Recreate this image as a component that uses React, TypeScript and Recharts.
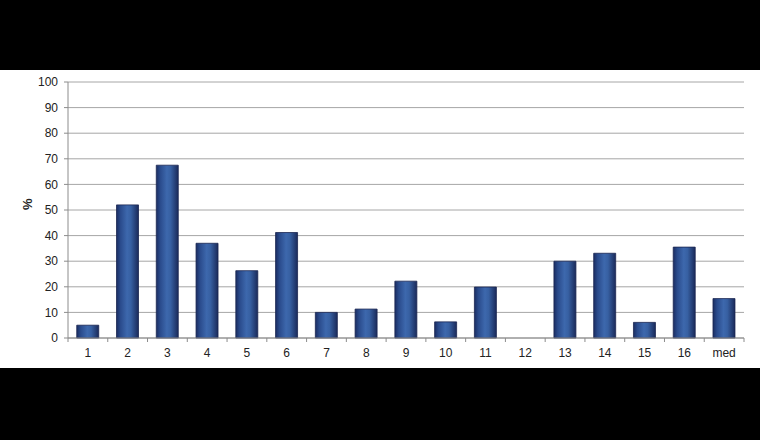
import { BarChart, Bar, XAxis, YAxis, CartesianGrid } from 'recharts';

const categories = ['1', '2', '3', '4', '5', '6', '7', '8', '9', '10', '11', '12', '13', '14', '15', '16', 'med'];
const shares = [5, 52, 67.5, 37, 26.3, 41.2, 10, 11.3, 22.2, 6.3, 19.9, 0, 30, 33.1, 6.1, 35.5, 15.4];
const yTicks = [0, 10, 20, 30, 40, 50, 60, 70, 80, 90, 100];

const data = categories.map((name, i) => ({ name, value: shares[i] }));

const FONT = '"Liberation Sans", Arial, sans-serif';
const AXIS = '#8c8c8c';
const TICK_SIZE = 4;
const TICK_MARGIN = 6;

// category axis: labels centred, tick marks on the band edges
function CategoryTick(props: any) {
  const { x, y, payload, index, visibleTicksCount, width } = props;
  const half = payload.offset || width / visibleTicksCount / 2;
  const axisY = y - TICK_SIZE - TICK_MARGIN;
  return (
    <g>
      <line x1={x - half} x2={x - half} y1={axisY} y2={axisY + TICK_SIZE} stroke={AXIS} />
      {index === visibleTicksCount - 1 && (
        <line x1={x + half} x2={x + half} y1={axisY} y2={axisY + TICK_SIZE} stroke={AXIS} />
      )}
      <text x={x} y={y} dy="0.71em" textAnchor="middle" fill="#222" fontSize={12} fontFamily={FONT}>
        {payload.value}
      </text>
    </g>
  );
}

export default function App() {
  return (
    <div style={{ position: 'fixed', left: 0, top: 0, width: 760, height: 440, background: '#000' }}>
      <div style={{ position: 'absolute', left: 0, top: 70, width: 760, height: 298, background: '#fff' }}>
        <BarChart
          width={760}
          height={298}
          data={data}
          margin={{ top: 12, right: 16, left: 0, bottom: 0 }}
          barCategoryGap="22%"
        >
          <defs>
            <linearGradient id="barGrad" x1="0" y1="0" x2="1" y2="0">
              <stop offset="0%" stopColor="#1a2d62" />
              <stop offset="18%" stopColor="#2a4b8c" />
              <stop offset="48%" stopColor="#3d68ad" />
              <stop offset="65%" stopColor="#3760a2" />
              <stop offset="100%" stopColor="#1a2a5a" />
            </linearGradient>
          </defs>
          <CartesianGrid vertical={false} stroke="#a6a6a6" yAxisId="left" />
          <XAxis
            dataKey="name"
            interval={0}
            height={30}
            tickSize={TICK_SIZE}
            tickMargin={TICK_MARGIN}
            tickLine={false}
            axisLine={{ stroke: AXIS }}
            tick={<CategoryTick />}
          />
          <YAxis
            yAxisId="left"
            domain={[0, 100]}
            ticks={yTicks}
            width={68}
            tickSize={4}
            tickMargin={6}
            tickLine={{ stroke: AXIS }}
            axisLine={{ stroke: AXIS }}
            tick={{ fill: '#222', fontSize: 12, fontFamily: FONT }}
            label={{
              value: '%',
              angle: -90,
              position: 'insideLeft',
              offset: 27,
              fill: '#222',
              fontSize: 13,
              fontWeight: 'bold',
              fontFamily: FONT,
            }}
          />
          <YAxis
            yAxisId="right"
            orientation="right"
            domain={[0, 100]}
            width={0}
            tick={false}
            tickLine={false}
            axisLine={{ stroke: AXIS }}
          />
          <Bar
            yAxisId="left"
            dataKey="value"
            fill="url(#barGrad)"
            stroke="#1b2650"
            strokeWidth={0.8}
            isAnimationActive={false}
          />
        </BarChart>
      </div>
    </div>
  );
}
